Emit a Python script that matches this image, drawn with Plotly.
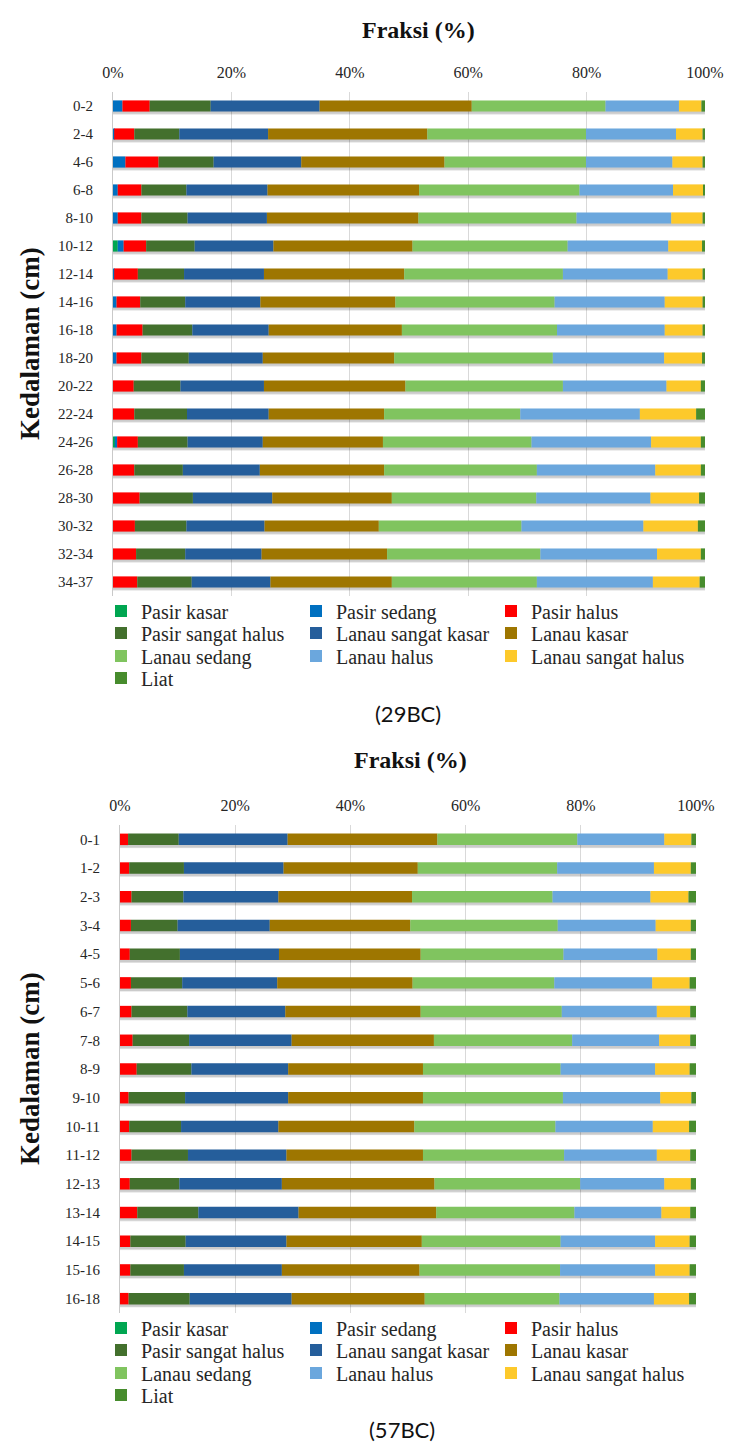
import numpy as np
import plotly.graph_objects as go

# ---------------- data ----------------
series_names = [
    "Pasir kasar", "Pasir sedang", "Pasir halus", "Pasir sangat halus",
    "Lanau sangat kasar", "Lanau kasar", "Lanau sedang", "Lanau halus",
    "Lanau sangat halus", "Liat",
]
series_colors = [
    "#00A651", "#0070C0", "#FF0000", "#43702D", "#255E9B",
    "#9E7600", "#80C45F", "#6BA7DD", "#FDC92B", "#478C2D",
]
x_ticks = [0, 20, 40, 60, 80, 100]

# core 29BC
depth_29 = ["0-2", "2-4", "4-6", "6-8", "8-10", "10-12", "12-14", "14-16", "16-18",
            "18-20", "20-22", "22-24", "24-26", "26-28", "28-30", "30-32", "32-34", "34-37"]
pasir_kasar_29 = [0, 0, 0, 0, 0, 0.8, 0, 0, 0, 0, 0, 0, 0.3, 0, 0, 0, 0, 0]
pasir_sedang_29 = [1.6, 0.2, 2.1, 0.8, 0.8, 1.0, 0.2, 0.6, 0.6, 0.6, 0, 0, 0.4, 0, 0, 0, 0, 0]
pasir_halus_29 = [4.6, 3.4, 5.6, 4.0, 4.0, 3.8, 4.0, 4.0, 4.4, 4.2, 3.5, 3.6, 3.5, 3.6, 4.5, 3.7, 3.9, 4.1]
pasir_sangat_halus_29 = [10.3, 7.6, 9.3, 7.6, 7.8, 8.2, 7.8, 7.6, 8.4, 8.0, 7.9, 8.9, 8.4, 8.2, 9.0, 8.7, 8.3, 9.2]
lanau_sangat_kasar_29 = [18.4, 15.0, 14.8, 13.7, 13.4, 13.3, 13.5, 12.7, 12.9, 12.5, 14.1, 13.8, 12.7, 13.0, 13.4, 13.2, 12.9, 13.3]
lanau_kasar_29 = [25.7, 26.9, 24.2, 25.6, 25.6, 23.5, 23.7, 22.8, 22.5, 22.2, 23.9, 19.5, 20.3, 21.0, 20.2, 19.3, 21.2, 20.5]
lanau_sedang_29 = [22.6, 26.8, 23.9, 27.1, 26.7, 26.2, 26.8, 26.9, 26.2, 26.8, 26.6, 23.0, 25.1, 25.8, 24.4, 24.1, 25.9, 24.5]
lanau_halus_29 = [12.4, 15.2, 14.6, 15.8, 16.0, 17.0, 17.7, 18.6, 18.2, 18.8, 17.5, 20.2, 20.2, 20.0, 19.3, 20.6, 19.7, 19.6]
lanau_sangat_halus_29 = [3.8, 4.5, 5.1, 5.1, 5.3, 5.7, 5.9, 6.4, 6.4, 6.4, 5.8, 9.5, 8.4, 7.7, 8.2, 9.2, 7.4, 7.9]
liat_29 = [0.6, 0.4, 0.4, 0.3, 0.4, 0.5, 0.4, 0.4, 0.4, 0.5, 0.7, 1.5, 0.7, 0.7, 1.0, 1.2, 0.7, 0.9]

# core 57BC
depth_57 = ["0-1", "1-2", "2-3", "3-4", "4-5", "5-6", "6-7", "7-8", "8-9", "9-10",
            "10-11", "11-12", "12-13", "13-14", "14-15", "15-16", "16-18"]
pasir_kasar_57 = [0] * 17
pasir_sedang_57 = [0] * 17
pasir_halus_57 = [1.4, 1.6, 2.0, 1.9, 1.7, 1.9, 2.0, 2.2, 2.9, 1.5, 1.6, 2.0, 1.7, 3.0, 1.8, 1.8, 1.5]
pasir_sangat_halus_57 = [8.8, 9.5, 9.0, 8.1, 8.7, 8.9, 9.7, 9.8, 9.5, 9.8, 9.0, 9.8, 8.6, 10.6, 9.6, 9.3, 10.6]
lanau_sangat_kasar_57 = [18.9, 17.3, 16.5, 16.0, 17.2, 16.5, 17.0, 17.8, 16.8, 17.9, 16.9, 17.1, 17.8, 17.4, 17.5, 17.0, 17.7]
lanau_kasar_57 = [26.0, 23.3, 23.2, 24.4, 24.6, 23.5, 23.5, 24.7, 23.4, 23.4, 23.6, 23.7, 26.5, 23.9, 23.5, 23.9, 23.1]
lanau_sedang_57 = [24.3, 24.2, 24.4, 25.6, 24.8, 24.6, 24.5, 24.0, 23.9, 24.3, 24.5, 24.5, 25.3, 24.0, 24.1, 24.4, 23.4]
lanau_halus_57 = [15.1, 16.8, 17.0, 17.0, 16.3, 17.0, 16.5, 15.1, 16.4, 16.9, 16.9, 16.1, 14.6, 15.1, 16.4, 16.5, 16.4]
lanau_sangat_halus_57 = [4.7, 6.4, 6.6, 6.1, 5.8, 6.5, 5.8, 5.4, 6.0, 5.4, 6.3, 5.8, 4.6, 5.0, 6.0, 6.0, 6.1]
liat_57 = [0.8, 0.9, 1.3, 0.9, 0.9, 1.1, 1.0, 1.0, 1.1, 0.8, 1.2, 1.0, 0.9, 1.0, 1.1, 1.1, 1.2]

# ---------------- layout constants ----------------
W, H = 730, 1445
SERIF = "Liberation Serif"
TEXT = "#262626"
BAR_W = 0.40


def py(px):
    """pixel row (from top) -> paper y"""
    return 1 - px / H


def px_x(px):
    return px / W


fig = go.Figure()


def add_profile(depths, columns, xa, ya, legend_ids):
    data = np.array(columns, dtype=float)
    pct = data / data.sum(axis=0) * 100.0
    base = np.vstack([np.zeros(len(depths)), np.cumsum(pct, axis=0)[:-1]])
    total = pct.sum(axis=0)

    # soft drop shadow under each bar
    for width, offset, alpha in [(0.50, -0.19, 0.05), (0.46, -0.16, 0.07), (0.42, -0.14, 0.09)]:
        fig.add_trace(go.Bar(
            y=depths, x=total, base=np.zeros(len(depths)), orientation="h",
            width=width, offset=offset,
            marker=dict(color=f"rgba(0,0,0,{alpha})", line=dict(width=0)),
            xaxis=xa, yaxis=ya, showlegend=False, hoverinfo="skip",
        ))

    # legend is laid out as rows of three entries
    for i, (name, color) in enumerate(zip(series_names, series_colors)):
        fig.add_trace(go.Bar(
            y=depths, x=pct[i], base=base[i], orientation="h",
            width=BAR_W, offset=-BAR_W / 2, name=name,
            marker=dict(color=color, line=dict(width=0)),
            xaxis=xa, yaxis=ya, legend=legend_ids[i // 3],
        ))


add_profile(depth_29, [pasir_kasar_29, pasir_sedang_29, pasir_halus_29, pasir_sangat_halus_29,
                       lanau_sangat_kasar_29, lanau_kasar_29, lanau_sedang_29, lanau_halus_29,
                       lanau_sangat_halus_29, liat_29], "x", "y",
            ["legend", "legend2", "legend3", "legend4"])
add_profile(depth_57, [pasir_kasar_57, pasir_sedang_57, pasir_halus_57, pasir_sangat_halus_57,
                       lanau_sangat_kasar_57, lanau_kasar_57, lanau_sedang_57, lanau_halus_57,
                       lanau_sangat_halus_57, liat_57], "x2", "y2",
            ["legend5", "legend6", "legend7", "legend8"])

# plot-area geometry (pixels)
TOP = dict(x0=113, x1=705, y0=92, y1=596)
BOT = dict(x0=120, x1=696, y0=825, y1=1313)

x_common = dict(
    range=[0, 100], side="top", tickmode="array", tickvals=x_ticks,
    ticktext=[f"{t}%" for t in x_ticks],
    showgrid=True, gridcolor="#d9d9d9", gridwidth=1, zeroline=False, showline=False,
    ticks="", ticklabelstandoff=10, tickfont=dict(family=SERIF, size=16, color=TEXT),
    fixedrange=True,
)
y_common = dict(
    type="category", autorange="reversed", showgrid=False, zeroline=False,
    showline=True, linecolor="#c9c9c9", linewidth=1, ticks="", ticklabelstandoff=16,
    tickfont=dict(family=SERIF, size=15, color=TEXT), fixedrange=True,
)

legend_common = dict(
    orientation="h", xanchor="left", yanchor="middle", traceorder="normal",
    entrywidth=150, entrywidthmode="pixels",
    font=dict(family=SERIF, size=20, color=TEXT), bgcolor="rgba(0,0,0,0)",
    itemclick=False, itemdoubleclick=False, borderwidth=0,
)
LEGEND_X = px_x(101)
rows_29 = [611, 633, 656, 678]
rows_57 = [1328, 1350, 1373, 1395]
legends = {}
for k, yy in enumerate(rows_29 + rows_57):
    key = "legend" if k == 0 else f"legend{k + 1}"
    legends[key] = dict(x=LEGEND_X, y=py(yy), **legend_common)

fig.update_layout(
    width=W, height=H, margin=dict(l=0, r=0, t=0, b=0, autoexpand=False),
    paper_bgcolor="white", plot_bgcolor="white", barmode="overlay",
    showlegend=True,
    xaxis=dict(domain=[px_x(TOP["x0"]), px_x(TOP["x1"])], anchor="y", **x_common),
    yaxis=dict(domain=[py(TOP["y1"]), py(TOP["y0"])], anchor="x",
               categoryorder="array", categoryarray=depth_29, **y_common),
    xaxis2=dict(domain=[px_x(BOT["x0"]), px_x(BOT["x1"])], anchor="y2", **x_common),
    yaxis2=dict(domain=[py(BOT["y1"]), py(BOT["y0"])], anchor="x2",
                categoryorder="array", categoryarray=depth_57, **y_common),
    **legends,
)

title_font = dict(family=SERIF, size=24, color="#111")
ytitle_font = dict(family=SERIF, size=27, color="#111")
caption_font = dict(family="Lato", size=22, color="#111")
annotations = [
    dict(text="<b>Fraksi (%)</b>", x=px_x(418), y=py(30), font=title_font),
    dict(text="<b>Kedalaman (cm)</b>", x=px_x(30), y=py((TOP["y0"] + TOP["y1"]) / 2),
         textangle=-90, font=ytitle_font),
    dict(text="(29BC)", x=px_x(408), y=py(713), font=caption_font),
    dict(text="<b>Fraksi (%)</b>", x=px_x(410), y=py(760), font=title_font),
    dict(text="<b>Kedalaman (cm)</b>", x=px_x(30), y=py((BOT["y0"] + BOT["y1"]) / 2),
         textangle=-90, font=ytitle_font),
    dict(text="(57BC)", x=px_x(402), y=py(1429), font=caption_font),
]
for a in annotations:
    fig.add_annotation(xref="paper", yref="paper", showarrow=False,
                       xanchor="center", yanchor="middle", **a)

fig.write_html("out.html")
